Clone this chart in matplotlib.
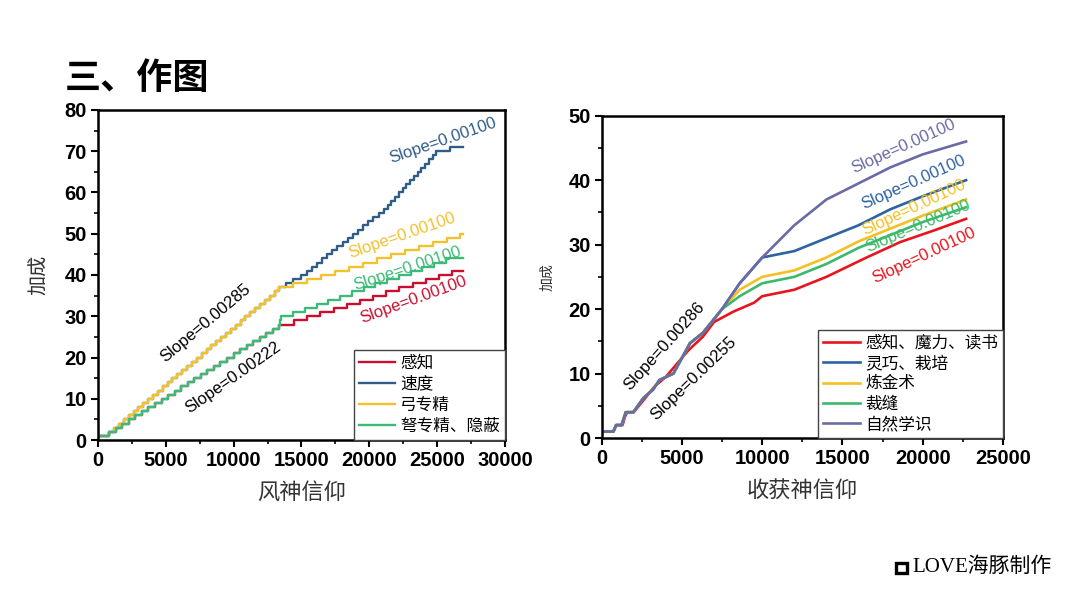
import matplotlib
matplotlib.use("Agg")
import matplotlib.pyplot as plt
from matplotlib.patches import Rectangle
from matplotlib.ticker import MultipleLocator

plt.rcParams['font.family'] = ['Liberation Sans', 'Noto Sans CJK SC', 'DejaVu Sans']
CJK = ['Noto Sans CJK SC', 'DejaVu Sans']

# ---------- left chart: 风神信仰 (step data, integer bonus levels) ----------
L_NAMES = ["感知", "速度", "弓专精", "弩专精、隐蔽"]

# shared early part of 弓专精 / 速度
bow_x = [0, 830, 1190, 1550, 1910, 2260, 2620, 2980, 3340, 3700, 4060, 4420, 4770,
         5130, 5490, 5850, 6210, 6570, 6930, 7290, 7640, 8000, 8350, 8710, 9070,
         9430, 9790, 10150, 10510, 10860, 11220, 11580, 11940, 12300, 12660, 13020, 13370]
bow_y = [1, 2, 3, 4, 5, 6, 7, 8, 9, 10, 11, 12, 13, 14, 15, 16, 17, 18, 19, 20, 21,
         22, 23, 24, 25, 26, 27, 28, 29, 30, 31, 32, 33, 34, 35, 36, 37]
bow_late_x = [14410, 15440, 16470, 17500, 18530, 19560, 20590, 21620, 22650, 23680,
              24720, 25750, 26700, 26890]
bow_late_y = [38, 39, 40, 41, 42, 43, 44, 45, 46, 47, 48, 49, 50, 50]
speed_late_x = [13860, 14390, 14930, 15420, 15810, 16150, 16520, 16900, 17280, 17650,
                18030, 18410, 18790, 19170, 19550, 19920, 20300, 20680, 21060, 21340,
                21610, 21890, 22170, 22450, 22720, 23000, 23290, 23560, 23840, 24110,
                24390, 24670, 24950, 25920, 26890]
speed_late_y = [38, 39, 40, 41, 42, 43, 44, 45, 46, 47, 48, 49, 50, 51, 52, 53, 54, 55,
                56, 57, 58, 59, 60, 61, 62, 63, 64, 65, 66, 67, 68, 69, 70, 71, 71]

# shared early part of 弩专精 / 感知
xbow_x = [0, 830, 1310, 1790, 2270, 2750, 3240, 3720, 4200, 4690, 5160, 5650, 6140,
          6610, 7100, 7580, 8060, 8550, 9030, 9510, 9990, 10470, 10960, 11440, 11920,
          12400, 12890, 13370]
xbow_y = [1, 2, 3, 4, 5, 6, 7, 8, 9, 10, 11, 12, 13, 14, 15, 16, 17, 18, 19, 20, 21,
          22, 23, 24, 25, 26, 27, 28]
xbow_late_x = [13420, 13520, 14380, 15250, 16120, 16980, 17850, 18710, 19580, 20440,
               21310, 22180, 23040, 23910, 24770, 25640, 26890]
xbow_late_y = [29, 30, 31, 32, 33, 34, 35, 36, 37, 38, 39, 40, 41, 42, 43, 44, 44]
perc_late_x = [14440, 15420, 16390, 17360, 18330, 19310, 20280, 21250, 22220, 23200,
               24170, 25140, 26120, 26890]
perc_late_y = [29, 30, 31, 32, 33, 34, 35, 36, 37, 38, 39, 40, 41, 41]

L_COLORS = ["#c8102e", "#2f5d87", "#f2c12e", "#3dba78"]

# ---------- right chart: 收获神信仰 ----------
R_NAMES = ["感知、魔力、读书", "灵巧、栽培", "炼金术", "裁缝", "自然学识"]

nat_early_x = [0, 720, 900, 1240, 1500, 1970, 2600, 3200, 3600, 4470, 5500, 6300, 7500]
nat_early_y = [1, 1, 2, 2, 4, 4, 6.2, 7.5, 9, 10, 14.7, 16.3, 20]
late_x = [8600, 10000, 12000, 14000, 16000, 18000, 20000, 22700]
nature_late = [24, 28, 33, 37, 39.5, 42, 44, 46]
dex_late = [24, 28, 29, 31, 33, 35.5, 37.5, 40]
alch_late = [23, 25, 26, 28, 30.5, 32.5, 34.5, 37]
tailor_late = [22, 24, 25, 27, 29.5, 31.5, 33.5, 35.8]

perc2_x = [0, 750, 900, 1300, 1450, 1600, 2000, 3300, 4000, 5400, 6300, 7000, 8200,
           9500, 10000, 12000, 14000, 16500, 18600, 20700, 22700]
perc2_y = [1, 1, 2, 2, 3.3, 4, 4, 8, 9.5, 13.6, 15.7, 18, 19.6, 21, 22, 23, 25, 28,
           30.4, 32.2, 34]

R_COLORS = ["#e8141e", "#2d62a3", "#f5c022", "#3cb96a", "#6a6aa6"]


def style_axes(ax, xmax, ymax, ylabel, xlabel, ylab_size):
    ax.set_xlim(0, xmax)
    ax.set_ylim(0, ymax)
    ax.xaxis.set_major_locator(MultipleLocator(5000))
    ax.xaxis.set_minor_locator(MultipleLocator(2500))
    ax.yaxis.set_major_locator(MultipleLocator(10))
    ax.yaxis.set_minor_locator(MultipleLocator(5))
    ax.tick_params(which='major', direction='out', length=5, width=1.5,
                   labelsize=14.5, pad=3)
    ax.tick_params(which='minor', direction='out', length=3, width=1.2)
    for lab in ax.get_xticklabels() + ax.get_yticklabels():
        lab.set_fontweight('bold')
    for sp in ax.spines.values():
        sp.set_linewidth(1.8)
    ax.set_xlabel(xlabel, fontsize=16, family=CJK, color='#333333', labelpad=8)
    ax.set_ylabel(ylabel, fontsize=ylab_size, family=CJK, color='#333333', labelpad=10)


fig = plt.figure(figsize=(10.8, 6.08), dpi=100)
fig.text(0.06, 0.853, "三、作图", fontsize=26, fontweight='bold', family=CJK)

# left
ax1 = fig.add_axes([0.0907, 0.2763, 0.3769, 0.5428])
ax1.plot(xbow_x + perc_late_x, xbow_y + perc_late_y, drawstyle='steps-post',
         color=L_COLORS[0], lw=1.7, label=L_NAMES[0])
ax1.plot(bow_x + speed_late_x, bow_y + speed_late_y, drawstyle='steps-post',
         color=L_COLORS[1], lw=1.7, label=L_NAMES[1])
ax1.plot(bow_x + bow_late_x, bow_y + bow_late_y, drawstyle='steps-post',
         color=L_COLORS[2], lw=1.7, label=L_NAMES[2])
ax1.plot(xbow_x + xbow_late_x, xbow_y + xbow_late_y, drawstyle='steps-post',
         color=L_COLORS[3], lw=1.7, label=L_NAMES[3])
style_axes(ax1, 30000, 80, "加成", "风神信仰", 14.5)
leg = ax1.legend(loc='lower right', borderaxespad=0, fancybox=False, framealpha=1,
                 edgecolor='#444444', prop={'family': CJK, 'size': 12},
                 handlelength=2.2, handletextpad=0.3, labelspacing=0.25,
                 borderpad=0.3)
leg.get_frame().set_linewidth(1.0)

lbl = dict(fontsize=12, ha='center', va='center', rotation_mode='anchor')
ax1.text(7960, 28.4, "Slope=0.00285", color='black', rotation=40, **lbl)
ax1.text(9930, 15.2, "Slope=0.00222", color='black', rotation=35, **lbl)
ax1.text(25450, 72.6, "Slope=0.00100", color=L_COLORS[1], rotation=19, **lbl)
ax1.text(22380, 49.5, "Slope=0.00100", color=L_COLORS[2], rotation=19, **lbl)
ax1.text(22790, 41.6, "Slope=0.00100", color=L_COLORS[3], rotation=18, **lbl)
ax1.text(23290, 34.1, "Slope=0.00100", color=L_COLORS[0], rotation=20, **lbl)

# right
ax2 = fig.add_axes([0.5571, 0.2796, 0.3716, 0.5301])
ax2.plot(perc2_x, perc2_y, color=R_COLORS[0], lw=1.9, label=R_NAMES[0])
ax2.plot(nat_early_x + late_x, nat_early_y + dex_late, color=R_COLORS[1], lw=1.9,
         label=R_NAMES[1])
ax2.plot(nat_early_x + late_x, nat_early_y + alch_late, color=R_COLORS[2], lw=1.9,
         label=R_NAMES[2])
ax2.plot(nat_early_x + late_x, nat_early_y + tailor_late, color=R_COLORS[3], lw=1.9,
         label=R_NAMES[3])
ax2.plot(nat_early_x + late_x, nat_early_y + nature_late, color=R_COLORS[4], lw=1.9,
         label=R_NAMES[4])
style_axes(ax2, 25000, 50, "加成", "收获神信仰", 10)
leg2 = ax2.legend(loc='lower right', borderaxespad=0, fancybox=False, framealpha=1,
                  edgecolor='#444444', prop={'family': CJK, 'size': 12},
                  handlelength=2.2, handletextpad=0.3, labelspacing=0.2,
                  borderpad=0.3)
leg2.get_frame().set_linewidth(1.0)

ax2.text(18800, 45.2, "Slope=0.00100", color=R_COLORS[4], rotation=24, **lbl)
ax2.text(19400, 39.6, "Slope=0.00100", color=R_COLORS[1], rotation=24, **lbl)
ax2.text(19450, 35.7, "Slope=0.00100", color=R_COLORS[2], rotation=25, **lbl)
ax2.text(19700, 32.8, "Slope=0.00100", color=R_COLORS[3], rotation=23, **lbl)
ax2.text(20100, 28.3, "Slope=0.00100", color=R_COLORS[0], rotation=25, **lbl)
ax2.text(3900, 14.2, "Slope=0.00286", color='black', rotation=48, **lbl)
ax2.text(5700, 9.2, "Slope=0.00255", color='black', rotation=44, **lbl)

# footer mark
fig.patches.append(Rectangle((0.8295, 0.057), 0.0100, 0.0175, transform=fig.transFigure,
                             fill=False, lw=2.4, edgecolor='black'))
fig.text(0.845, 0.067, "LOVE海豚制作", fontsize=15, va='center',
         family=['Liberation Serif', 'Noto Sans CJK SC'])

fig.savefig("out.png", dpi=100)
